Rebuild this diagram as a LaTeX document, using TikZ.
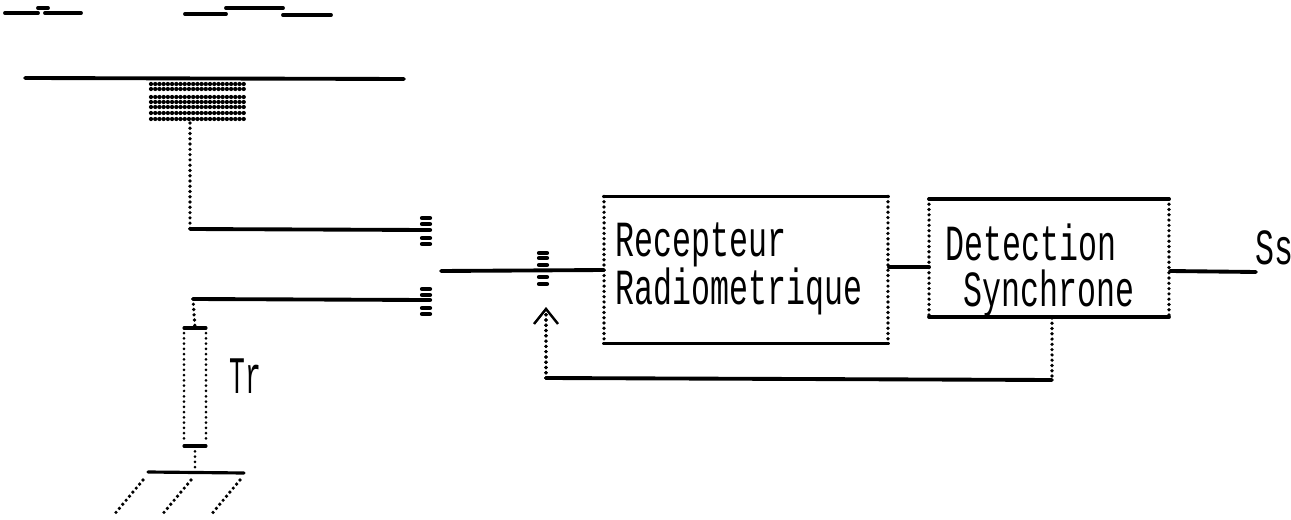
\documentclass[tikz,border=0pt]{standalone}
\usepackage{fontspec}
\setmonofont{Liberation Mono}
\usetikzlibrary{arrows.meta}
\newcommand{\tallbox}[1]{\scalebox{1}[1.6]{#1}}
\tikzset{
	solidline/.style={line width=2.2pt, line cap=round},
	dotline/.style={line width=2.1pt, line cap=round, dash pattern=on 0pt off 3pt},
	finedots/.style={line width=1.7pt, line cap=round, dash pattern=on 0pt off 3pt},
	hatchline/.style={line width=2.4pt, line cap=round, dash pattern=on 0pt off 2.4pt},
	contact/.style={line width=2.4pt, line cap=round},
	block/.style={inner sep=0pt, outer sep=0pt},
	legend/.style={font=\fontsize{18}{20}\ttfamily, anchor=base west, inner sep=0pt},
}

\begin{document}
\begin{tikzpicture}[x=0.02cm, y=-0.02cm, >={Straight Barb[length=0.3cm, width=0.48cm, line width=1.4pt]}]

		\useasboundingbox (0, 0) rectangle (1291, 520);

		% Strip line at the top
		\draw[solidline] (5, 13) -- (38, 13) (38, 8) -- (48, 8) (45, 13) -- (81, 13);
		\draw[solidline] (185, 14) -- (226, 14) (226, 8) -- (283, 8) (283, 15) -- (331, 15);
		\draw[solidline] (25, 78) -- (404, 79);
		\foreach \y in {84, 89, 97, 102, 107, 113, 119}
			\draw[hatchline] (151, \y) -- (245, \y);

		% Antenna branch and load
		\coordinate (patch) at (190, 123);
		\coordinate (patch-corner) at (190, 229);
		\coordinate (contact-A) at (425, 230);
		\draw[dotline] (patch) -- (patch-corner);
		\draw[solidline] (patch-corner) -- (contact-A);

		\coordinate (load-corner) at (193, 299);
		\coordinate (contact-B) at (425, 300);
		\draw[solidline] (load-corner) -- (contact-B);

		\node[block, minimum width=0.44cm, minimum height=2.36cm] (Tr) at (195, 387) {};
		\draw[solidline, line width=1.8pt] (Tr.north west) -- (Tr.north east);
		\draw[solidline, line width=1.8pt] (Tr.south west) -- (Tr.south east);
		\draw[finedots] ([yshift=-0.1cm]Tr.north west) -- ([yshift=0.1cm]Tr.south west);
		\draw[finedots] ([yshift=-0.1cm]Tr.north east) -- ([yshift=0.1cm]Tr.south east);
		\draw[dotline] (load-corner) -- (Tr.north);
		\node[legend, font=\fontsize{15}{17}\ttfamily] (Tr-label) at (229, 393) {\scalebox{1}[2.0]{Tr}};

		% Ground
		\coordinate (ground) at (195, 472);
		\draw[finedots] (Tr.south) -- (ground);
		\draw[solidline, line width=1.8pt] (148, 472) -- (244, 473);
		\foreach \x in {143, 191, 240}
			\draw[dotline] (\x, 480) -- ++(-30, 36);

		% Switch contacts
		\foreach \x/\y in {426/218, 426/224, 426/230, 426/238, 426/244,
			426/289, 426/295, 426/300, 426/308, 426/314,
			543/253, 543/258, 543/265, 543/277, 543/284}
			\draw[contact] (\x-4, \y) -- (\x+4, \y);

		% Blocks
		\node[block, minimum width=5.68cm, minimum height=2.94cm] (radio) at (746, 270) {};
		\draw[solidline] (radio.north west) -- (radio.north east);
		\draw[solidline] (radio.south west) -- (radio.south east);
		\draw[dotline] (radio.north west) -- (radio.south west);
		\draw[dotline] (radio.north east) -- (radio.south east);
		\node[legend] (radio-top) at (615, 256) {\tallbox{Recepteur}};
		\node[legend] (radio-bottom) at (615, 304) {\tallbox{Radiometrique}};

		\node[block, minimum width=4.8cm, minimum height=2.36cm] (detect) at (1049, 258) {};
		\draw[solidline] (detect.north west) -- (detect.north east);
		\draw[solidline] (detect.south west) -- (detect.south east);
		\draw[dotline] (detect.north west) -- (detect.south west);
		\draw[dotline] (detect.north east) -- (detect.south east);
		\node[legend] (detect-top) at (945, 260) {\tallbox{Detection}};
		\node[legend] (detect-bottom) at (963, 306) {\tallbox{Synchrone}};

		% Connections
		\coordinate (input) at (441, 271);
		\coordinate (radio-out) at (889, 267);
		\coordinate (detect-in) at (929, 267);
		\coordinate (detect-out) at (1170, 271);
		\coordinate (Ss-end) at (1256, 272);
		\draw[solidline] (input) -- (radio.west);
		\draw[solidline] (radio-out) -- (detect-in);
		\draw[solidline] (detect-out) -- (Ss-end);
		\node[legend] (Ss) at (1255, 264) {\tallbox{Ss}};

		% Feedback
		\coordinate (fb-start) at (1052, 318);
		\coordinate (fb-right) at (1052, 380);
		\coordinate (fb-left) at (546, 378);
		\coordinate (fb-tip) at (546, 307);
		\draw[dotline] (fb-start) -- (fb-right);
		\draw[solidline] (fb-right) -- (fb-left);
		\draw[dotline] (fb-left) -- (fb-tip);
		\draw[dotline, ->] (fb-left) -- (fb-tip);

	\end{tikzpicture}
\end{document}
